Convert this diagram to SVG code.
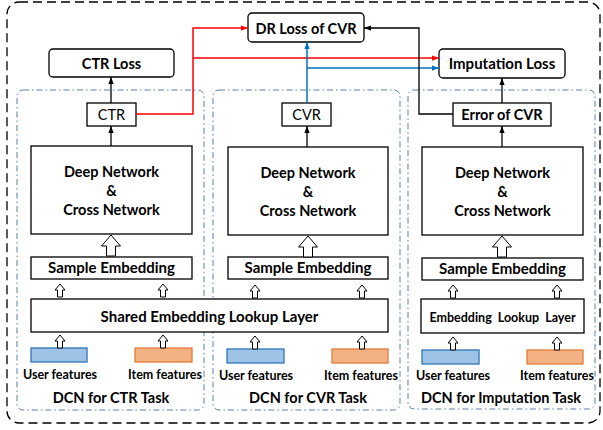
<svg xmlns="http://www.w3.org/2000/svg" width="603" height="430" viewBox="0 0 603 430">
<defs>
<style>
.box{fill:#fff;stroke:#000;stroke-width:1.3}
.rbox{fill:#fff;stroke:#000;stroke-width:1.3}
.task{fill:none;stroke:#5A7FAA;stroke-width:1;stroke-dasharray:6 3 1.5 3}
.outer{fill:none;stroke:#000;stroke-width:1.3;stroke-dasharray:9 5}
.user{fill:#9DC3E6;stroke:#2E75B6;stroke-width:1.3}
.item{fill:#F4B183;stroke:#E07B39;stroke-width:1.3}
.hollow{fill:#fff;stroke:#000;stroke-width:1}
text{font-family:Lato,"Liberation Sans",sans-serif;fill:#000;text-anchor:middle}
.b{font-weight:bold}
.t14{font-size:14.5px}
.t15{font-size:15px}
.t12{font-size:12.5px}
.t16{font-size:14.5px}
.k{fill:none;stroke:#000;stroke-width:1.3}
.r{fill:none;stroke:#FF0000;stroke-width:1.5}
.bl{fill:none;stroke:#0070C0;stroke-width:1.5}
</style>
<marker id="mk" viewBox="0 0 8 6" refX="8" refY="3" markerWidth="7" markerHeight="5.5" markerUnits="userSpaceOnUse" orient="auto"><path d="M0,0 L8,3 L0,6 Z" fill="#000"/></marker>
<marker id="mr" viewBox="0 0 8 6" refX="8" refY="3" markerWidth="7" markerHeight="5.5" markerUnits="userSpaceOnUse" orient="auto"><path d="M0,0 L8,3 L0,6 Z" fill="#FF0000"/></marker>
<marker id="mb" viewBox="0 0 8 6" refX="8" refY="3" markerWidth="7" markerHeight="5.5" markerUnits="userSpaceOnUse" orient="auto"><path d="M0,0 L8,3 L0,6 Z" fill="#0070C0"/></marker>
<path id="bigArrow" class="hollow" d="M0,0 L9.5,11 L4.5,11 L4.5,21 L-4.5,21 L-4.5,11 L-9.5,11 Z"/>
<path id="smallArrow" class="hollow" d="M0,0 L5,6 L2.5,6 L2.5,13 L-2.5,13 L-2.5,6 L-5,6 Z"/>
</defs>
<rect width="603" height="430" fill="#fff"/>
<rect class="outer" x="7" y="2" width="593" height="421" rx="12"/>

<g id="task-ctr">
<rect class="task" x="17" y="90" width="187" height="320" rx="6"/>
<text class="b t16" x="111" y="403">DCN for CTR Task</text>
</g>
<g id="task-cvr">
<rect class="task" x="213" y="90" width="187" height="320" rx="6"/>
<text class="b t16" x="308" y="403">DCN for CVR Task</text>
</g>
<g id="task-imp">
<rect class="task" x="408" y="90" width="187" height="319" rx="6"/>
<text class="b t16" x="501" y="403">DCN for Imputation Task</text>
</g>

<g id="ctr-loss"><rect class="rbox" x="49" y="49" width="125" height="28" rx="4"/><text class="b t14" x="111.5" y="68.5">CTR Loss</text></g>
<g id="dr-loss"><rect class="rbox" x="248" y="13" width="116" height="29" rx="4"/><text class="b t14" x="306" y="33.5">DR Loss of CVR</text></g>
<g id="imp-loss"><rect class="rbox" x="439" y="49" width="126" height="29" rx="4"/><text class="b t15" x="502" y="68.5">Imputation Loss</text></g>

<g id="ctr"><rect class="box" x="87" y="103" width="49" height="23"/><text class="t14" x="111.5" y="120">CTR</text></g>
<g id="cvr"><rect class="box" x="282" y="103" width="49" height="23"/><text class="t14" x="306.5" y="120">CVR</text></g>
<g id="err-cvr"><rect class="box" x="453" y="103" width="98" height="23"/><text class="b t14" x="502" y="120">Error of CVR</text></g>

<g id="dcn-ctr"><rect class="box" x="31" y="146" width="161" height="88"/><text class="b t14" x="111.5" y="177">Deep Network</text><text class="b t14" x="111.5" y="195.5">&amp;</text><text class="b t14" x="111.5" y="214.5">Cross Network</text></g>
<g id="dcn-cvr"><rect class="box" x="228" y="147" width="160" height="88"/><text class="b t14" x="308" y="177.5">Deep Network</text><text class="b t14" x="308" y="196.5">&amp;</text><text class="b t14" x="308" y="215.5">Cross Network</text></g>
<g id="dcn-imp"><rect class="box" x="422" y="147" width="161" height="88"/><text class="b t14" x="502.5" y="177.5">Deep Network</text><text class="b t14" x="502.5" y="196.5">&amp;</text><text class="b t14" x="502.5" y="215.5">Cross Network</text></g>

<g id="se-ctr"><rect class="box" x="31" y="257" width="161" height="22"/><text class="b t15" x="111.5" y="273">Sample Embedding</text></g>
<g id="se-cvr"><rect class="box" x="228" y="257" width="160" height="22"/><text class="b t15" x="308" y="273">Sample Embedding</text></g>
<g id="se-imp"><rect class="box" x="422" y="258" width="161" height="22"/><text class="b t15" x="502.5" y="274">Sample Embedding</text></g>

<g id="shared-lookup"><rect class="box" x="31" y="299" width="357" height="33"/><text class="b t15" x="209.5" y="322">Shared Embedding Lookup Layer</text></g>
<g id="imp-lookup"><rect class="box" x="421" y="299" width="163" height="34"/><text class="b t12" x="502.5" y="322" word-spacing="3">Embedding Lookup Layer</text></g>

<g id="feat-ctr-user"><rect class="user" x="31" y="348" width="56" height="14"/><text class="b t12" x="60" y="379">User features</text></g>
<g id="feat-ctr-item"><rect class="item" x="135" y="348" width="57" height="14"/><text class="b t12" x="165" y="379">Item features</text></g>
<g id="feat-cvr-user"><rect class="user" x="227" y="349" width="57" height="14"/><text class="b t12" x="256" y="380">User features</text></g>
<g id="feat-cvr-item"><rect class="item" x="332" y="349" width="56" height="14"/><text class="b t12" x="361" y="380">Item features</text></g>
<g id="feat-imp-user"><rect class="user" x="422" y="350" width="57" height="14"/><text class="b t12" x="453" y="380">User features</text></g>
<g id="feat-imp-item"><rect class="item" x="527" y="350" width="56" height="14"/><text class="b t12" x="557" y="380">Item features</text></g>

<g id="connectors">
<path class="k" d="M111,103 V77" marker-end="url(#mk)"/>
<path class="r" d="M136,114 H193 V28 H248" marker-end="url(#mr)"/>
<path class="r" d="M193,58 H439" marker-end="url(#mr)"/>
<path class="bl" d="M307,103 V42" marker-end="url(#mb)"/>
<path class="bl" d="M307,68 H439" marker-end="url(#mb)"/>
<path class="k" d="M453,114 H419 V28 H364" marker-end="url(#mk)"/>
<path class="k" d="M502,103 V78" marker-end="url(#mk)"/>
<path class="k" d="M111,146 V126" marker-end="url(#mk)"/>
<path class="k" d="M307,147 V126" marker-end="url(#mk)"/>
<path class="k" d="M502,147 V126" marker-end="url(#mk)"/>
<use href="#bigArrow" x="111" y="235"/>
<use href="#bigArrow" x="308" y="236"/>
<use href="#bigArrow" x="502" y="236"/>
<use href="#smallArrow" x="60" y="284"/>
<use href="#smallArrow" x="163" y="284"/>
<use href="#smallArrow" x="255" y="285"/>
<use href="#smallArrow" x="362" y="285"/>
<use href="#smallArrow" x="453" y="285"/>
<use href="#smallArrow" x="557" y="285"/>
<use href="#smallArrow" x="60" y="335"/>
<use href="#smallArrow" x="163" y="335"/>
<use href="#smallArrow" x="255" y="336"/>
<use href="#smallArrow" x="362" y="336"/>
<use href="#smallArrow" x="453" y="337"/>
<use href="#smallArrow" x="557" y="337"/>
</g>
</svg>
